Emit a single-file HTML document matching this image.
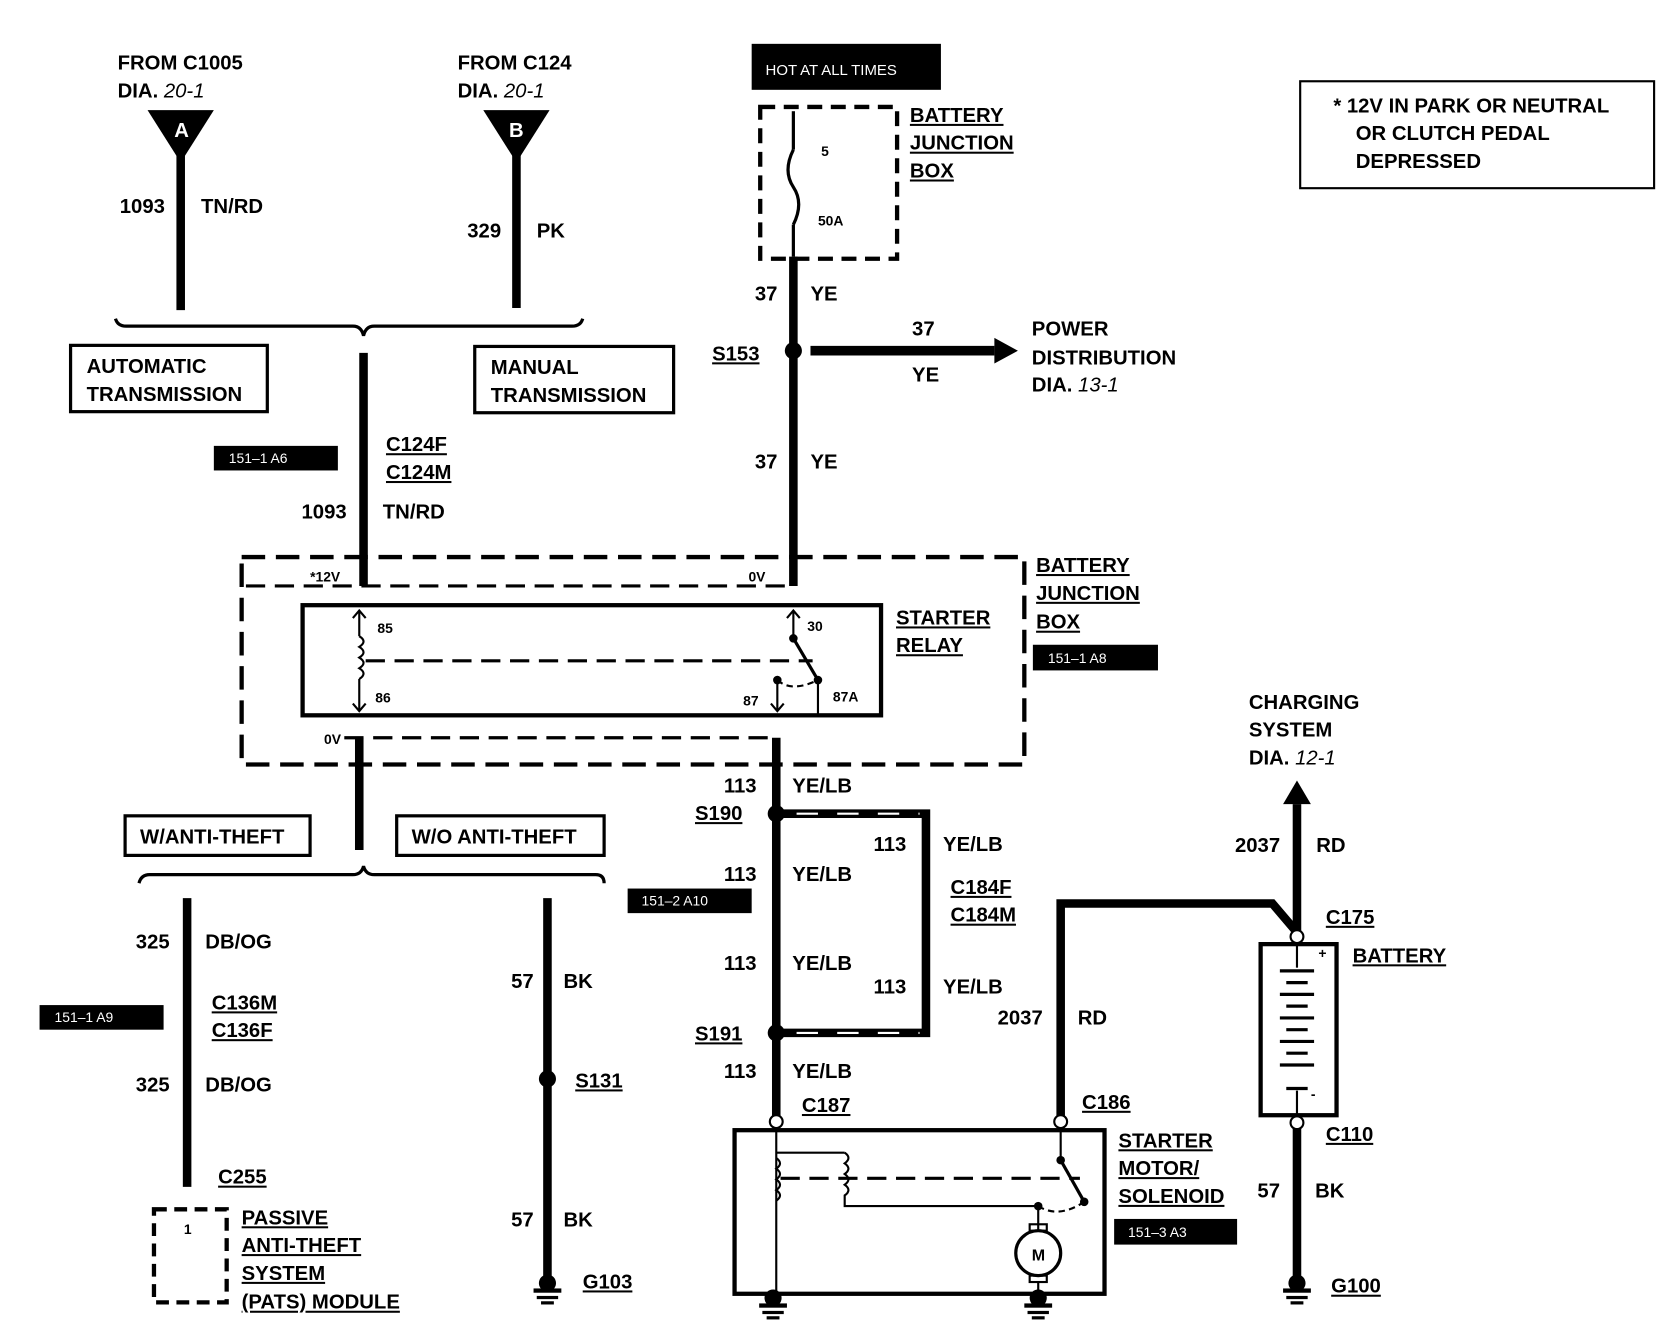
<!DOCTYPE html>
<html><head><meta charset="utf-8"><style>
html,body{margin:0;padding:0;background:#fff;}
svg{display:block;}
text{font-family:"Liberation Sans",Arial,sans-serif;font-weight:bold;font-size:19px;fill:#000;}
.s{font-size:13px;}
.w{fill:#fff;font-size:13px;font-weight:normal;}
.i{font-style:italic;font-weight:normal;}
</style></head><body>
<svg width="1668" height="1328" viewBox="0 0 1560 1242" preserveAspectRatio="none" xmlns="http://www.w3.org/2000/svg">
<defs>
<g id="gnd"><circle cx="0" cy="0" r="8" fill="#000"/><rect x="-13" y="5" width="26" height="4" fill="#000"/><rect x="-10" y="12" width="20" height="3" fill="#000"/><rect x="-6" y="17" width="12" height="3" fill="#000"/></g>
</defs>
<g fill="none" stroke="#000">
<line x1="169" y1="140" x2="169" y2="290" stroke-width="8"/>
<line x1="483" y1="140" x2="483" y2="288" stroke-width="8"/>
<path d="M108 298 Q110 305 118 305 L330 305 Q338 305 340 314 Q342 305 350 305 L535 305 Q543 305 545 298" stroke-width="3"/>
<line x1="340" y1="330" x2="340" y2="548" stroke-width="8"/>
<line x1="742" y1="104" x2="742" y2="140" stroke-width="3"/>
<path d="M742 140 Q732 160 742 175 Q752 190 742 210" stroke-width="3"/>
<line x1="742" y1="210" x2="742" y2="240" stroke-width="3"/>
<line x1="742" y1="240" x2="742" y2="548" stroke-width="8"/>
<line x1="758" y1="328" x2="930" y2="328" stroke-width="9"/>
<rect x="711" y="100" width="128" height="142" stroke-width="4" stroke-dasharray="14 8"/>
<rect x="226" y="521" width="732" height="194" stroke-width="4" stroke-dasharray="22 10"/>
<line x1="230" y1="548" x2="740" y2="548" stroke-width="3" stroke-dasharray="18 9"/>
<line x1="322" y1="690" x2="726" y2="690" stroke-width="3" stroke-dasharray="18 9"/>
<rect x="283" y="566" width="541" height="103" stroke-width="4"/>
<line x1="336" y1="572" x2="336" y2="595" stroke-width="2"/>
<path d="M336 595 q8 5 0 10 q8 5 0 10 q8 5 0 10 q8 5 0 10" stroke-width="2"/>
<line x1="336" y1="635" x2="336" y2="664" stroke-width="2"/>
<path d="M330 578 L336 571 L342 578 M330 658 L336 665 L342 658" stroke-width="2"/>
<line x1="342" y1="618" x2="760" y2="618" stroke-width="3" stroke-dasharray="18 9"/>
<line x1="742" y1="572" x2="742" y2="597" stroke-width="2"/>
<path d="M736 578 L742 571 L748 578" stroke-width="2"/>
<line x1="742" y1="597" x2="765" y2="636" stroke-width="3"/>
<line x1="765" y1="636" x2="765" y2="669" stroke-width="2"/>
<line x1="727" y1="636" x2="727" y2="665" stroke-width="2"/>
<path d="M721 658 L727 665 L733 658" stroke-width="2"/>
<path d="M727 636 Q740 648 765 636" stroke-width="2" stroke-dasharray="6 4"/>
<line x1="336" y1="690" x2="336" y2="795" stroke-width="8"/>
<path d="M130 826 Q132 818 140 818 L330 818 Q338 818 340 810 Q342 818 350 818 L557 818 Q565 818 565 826" stroke-width="3"/>
<line x1="175" y1="840" x2="175" y2="1110" stroke-width="8"/>
<line x1="512" y1="840" x2="512" y2="1195" stroke-width="8"/>
<rect x="144" y="1131" width="68" height="87" stroke-width="4" stroke-dasharray="12 7"/>
<line x1="726" y1="690" x2="726" y2="1045" stroke-width="8"/>
<path d="M730 761 L866 761 L866 966 L730 966" stroke-width="8"/>
<line x1="745" y1="761" x2="860" y2="761" stroke="#fff" stroke-width="2" stroke-dasharray="20 18"/>
<line x1="745" y1="966" x2="860" y2="966" stroke="#fff" stroke-width="2" stroke-dasharray="20 18"/>
<rect x="687" y="1057" width="346" height="153" stroke-width="4"/>
<line x1="726" y1="1054" x2="726" y2="1210" stroke-width="2"/>
<path d="M726 1078 L790 1078" stroke-width="2"/>
<path d="M726 1083 q7 5 0 10 q7 5 0 10 q7 5 0 10 q7 5 0 10" stroke-width="2"/>
<path d="M790 1078 q7 5 0 10 q7 5 0 10 q7 5 0 10 q7 5 0 10 L790 1128 L971 1128" stroke-width="2"/>
<line x1="730" y1="1102" x2="1010" y2="1102" stroke-width="3" stroke-dasharray="18 9"/>
<line x1="992" y1="1054" x2="992" y2="1085" stroke-width="2"/>
<line x1="992" y1="1085" x2="1014" y2="1124" stroke-width="3"/>
<path d="M971 1128 Q990 1140 1014 1124" stroke-width="2" stroke-dasharray="6 4"/>
<line x1="971" y1="1128" x2="971" y2="1150" stroke-width="2"/>
<circle cx="971" cy="1172" r="21" stroke-width="3"/>
<rect x="963" y="1145" width="16" height="6" stroke-width="2"/>
<rect x="963" y="1193" width="16" height="6" stroke-width="2"/>
<line x1="971" y1="1199" x2="971" y2="1210" stroke-width="2"/>
<path d="M992 1045 L992 845 L1190 845 L1213 872" stroke-width="8"/>
<line x1="1213" y1="752" x2="1213" y2="872" stroke-width="8"/>
<rect x="1179" y="883" width="71" height="160" stroke-width="4"/>
<line x1="1213" y1="880" x2="1213" y2="905" stroke-width="2"/>
<line x1="1213" y1="1020" x2="1213" y2="1043" stroke-width="2"/>
<g stroke-width="3"><line x1="1197" y1="908" x2="1229" y2="908"/><line x1="1203" y1="919" x2="1223" y2="919"/><line x1="1197" y1="930" x2="1229" y2="930"/><line x1="1203" y1="941" x2="1223" y2="941"/><line x1="1197" y1="952" x2="1229" y2="952"/><line x1="1203" y1="963" x2="1223" y2="963"/><line x1="1197" y1="974" x2="1229" y2="974"/><line x1="1203" y1="985" x2="1223" y2="985"/><line x1="1197" y1="996" x2="1229" y2="996"/><line x1="1203" y1="1018" x2="1223" y2="1018"/></g>
<line x1="1213" y1="1055" x2="1213" y2="1195" stroke-width="8"/>
<rect x="1216" y="76" width="331" height="100" stroke-width="2"/>
</g>
<polygon points="138,103 200,103 169,152" fill="#000"/>
<polygon points="452,103 514,103 483,152" fill="#000"/>
<polygon points="930,316 952,328 930,340" fill="#000"/>
<polygon points="1200,752 1213,730 1226,752" fill="#000"/>
<circle cx="742" cy="328" r="8" fill="#000"/>
<circle cx="726" cy="761" r="8" fill="#000"/>
<circle cx="726" cy="966" r="8" fill="#000"/>
<circle cx="512" cy="1009" r="8" fill="#000"/>
<circle cx="742" cy="597" r="4" fill="#000"/><circle cx="765" cy="636" r="4" fill="#000"/><circle cx="727" cy="636" r="4" fill="#000"/>
<circle cx="992" cy="1085" r="4" fill="#000"/><circle cx="1014" cy="1124" r="4" fill="#000"/><circle cx="971" cy="1128" r="4" fill="#000"/>
<g fill="#fff" stroke="#000" stroke-width="2">
<circle cx="726" cy="1049" r="6"/><circle cx="992" cy="1049" r="6"/><circle cx="1213" cy="876" r="6"/><circle cx="1213" cy="1050" r="6"/>
</g>
<use href="#gnd" x="512" y="1200"/><use href="#gnd" x="723" y="1214"/><use href="#gnd" x="971" y="1214"/><use href="#gnd" x="1213" y="1200"/>
<rect x="703" y="41" width="177" height="43" fill="#000"/>
<rect x="200" y="417" width="116" height="23" fill="#000"/>
<rect x="966" y="603" width="117" height="24" fill="#000"/>
<rect x="37" y="940" width="116" height="23" fill="#000"/>
<rect x="587" y="831" width="116" height="23" fill="#000"/>
<rect x="1042" y="1140" width="115" height="24" fill="#000"/>
<text x="716" y="70" class="w" style="font-size:14px">HOT AT ALL TIMES</text>
<text x="214" y="433" class="w">151–1 A6</text>
<text x="980" y="620" class="w">151–1 A8</text>
<text x="51" y="956" class="w">151–1 A9</text>
<text x="600" y="847" class="w">151–2 A10</text>
<text x="1055" y="1157" class="w">151–3 A3</text>
<text x="163" y="128" style="fill:#fff">A</text>
<text x="476" y="128" style="fill:#fff">B</text>
<text x="110" y="65">FROM C1005</text><text x="110" y="91">DIA.<tspan class="i"> 20-1</tspan></text>
<text x="428" y="65">FROM C124</text><text x="428" y="91">DIA.<tspan class="i"> 20-1</tspan></text>
<text x="112" y="199">1093</text><text x="188" y="199">TN/RD</text>
<text x="437" y="222">329</text><text x="502" y="222">PK</text>
<rect x="66" y="323" width="184" height="62" fill="none" stroke="#000" stroke-width="3"/>
<text x="81" y="349">AUTOMATIC</text><text x="81" y="375">TRANSMISSION</text>
<rect x="444" y="324" width="186" height="62" fill="none" stroke="#000" stroke-width="3"/>
<text x="459" y="350">MANUAL</text><text x="459" y="376">TRANSMISSION</text>
<text x="361" y="422" text-decoration="underline">C124F</text><text x="361" y="448" text-decoration="underline">C124M</text>
<text x="282" y="485">1093</text><text x="358" y="485">TN/RD</text>
<text x="290" y="544" class="s">*12V</text><text x="700" y="544" class="s">0V</text><text x="303" y="696" class="s">0V</text>
<text x="768" y="146" class="s">5</text><text x="765" y="211" class="s">50A</text>
<text x="851" y="114" text-decoration="underline">BATTERY</text><text x="851" y="140" text-decoration="underline">JUNCTION</text><text x="851" y="166" text-decoration="underline">BOX</text>
<text x="706" y="281">37</text><text x="758" y="281">YE</text>
<text x="666" y="337" text-decoration="underline">S153</text>
<text x="853" y="314">37</text><text x="853" y="357">YE</text>
<text x="965" y="314">POWER</text><text x="965" y="341">DISTRIBUTION</text><text x="965" y="366">DIA.<tspan class="i"> 13-1</tspan></text>
<text x="706" y="438">37</text><text x="758" y="438">YE</text>
<text x="1247" y="105">*  12V IN PARK OR NEUTRAL</text><text x="1268" y="131">OR CLUTCH PEDAL</text><text x="1268" y="157">DEPRESSED</text>
<text x="353" y="592" class="s">85</text><text x="351" y="657" class="s">86</text><text x="755" y="590" class="s">30</text><text x="695" y="660" class="s">87</text><text x="779" y="656" class="s">87A</text>
<text x="838" y="584" text-decoration="underline">STARTER</text><text x="838" y="610" text-decoration="underline">RELAY</text>
<text x="969" y="535" text-decoration="underline">BATTERY</text><text x="969" y="561" text-decoration="underline">JUNCTION</text><text x="969" y="588" text-decoration="underline">BOX</text>
<rect x="117" y="763" width="173" height="37" fill="none" stroke="#000" stroke-width="3"/><text x="131" y="789">W/ANTI-THEFT</text>
<rect x="371" y="763" width="194" height="37" fill="none" stroke="#000" stroke-width="3"/><text x="385" y="789">W/O ANTI-THEFT</text>
<text x="127" y="887">325</text><text x="192" y="887">DB/OG</text>
<text x="198" y="944" text-decoration="underline">C136M</text><text x="198" y="970" text-decoration="underline">C136F</text>
<text x="127" y="1021">325</text><text x="192" y="1021">DB/OG</text>
<text x="204" y="1107" text-decoration="underline">C255</text>
<text x="172" y="1154" class="s">1</text>
<text x="226" y="1145" text-decoration="underline">PASSIVE</text><text x="226" y="1171" text-decoration="underline">ANTI-THEFT</text><text x="226" y="1197" text-decoration="underline">SYSTEM</text><text x="226" y="1224" text-decoration="underline">(PATS) MODULE</text>
<text x="478" y="924">57</text><text x="527" y="924">BK</text>
<text x="538" y="1017" text-decoration="underline">S131</text>
<text x="478" y="1147">57</text><text x="527" y="1147">BK</text>
<text x="545" y="1205" text-decoration="underline">G103</text>
<text x="677" y="741">113</text><text x="741" y="741">YE/LB</text>
<text x="650" y="767" text-decoration="underline">S190</text>
<text x="817" y="796">113</text><text x="882" y="796">YE/LB</text>
<text x="677" y="824">113</text><text x="741" y="824">YE/LB</text>
<text x="889" y="836" text-decoration="underline">C184F</text><text x="889" y="862" text-decoration="underline">C184M</text>
<text x="677" y="907">113</text><text x="741" y="907">YE/LB</text>
<text x="817" y="929">113</text><text x="882" y="929">YE/LB</text>
<text x="650" y="973" text-decoration="underline">S191</text>
<text x="677" y="1008">113</text><text x="741" y="1008">YE/LB</text>
<text x="750" y="1040" text-decoration="underline">C187</text>
<text x="933" y="958">2037</text><text x="1008" y="958">RD</text>
<text x="1012" y="1037" text-decoration="underline">C186</text>
<text x="965" y="1179" class="s" style="font-size:15px">M</text>
<text x="1046" y="1073" text-decoration="underline">STARTER</text><text x="1046" y="1099" text-decoration="underline">MOTOR/</text><text x="1046" y="1125" text-decoration="underline">SOLENOID</text>
<text x="1168" y="663">CHARGING</text><text x="1168" y="689">SYSTEM</text><text x="1168" y="715">DIA.<tspan class="i"> 12-1</tspan></text>
<text x="1155" y="797">2037</text><text x="1231" y="797">RD</text>
<text x="1240" y="864" text-decoration="underline">C175</text>
<text x="1265" y="900" text-decoration="underline">BATTERY</text>
<text x="1233" y="896" class="s">+</text><text x="1226" y="1028" class="s">-</text>
<text x="1240" y="1067" text-decoration="underline">C110</text>
<text x="1176" y="1120">57</text><text x="1230" y="1120">BK</text>
<text x="1245" y="1209" text-decoration="underline">G100</text>
</svg>
</body></html>
